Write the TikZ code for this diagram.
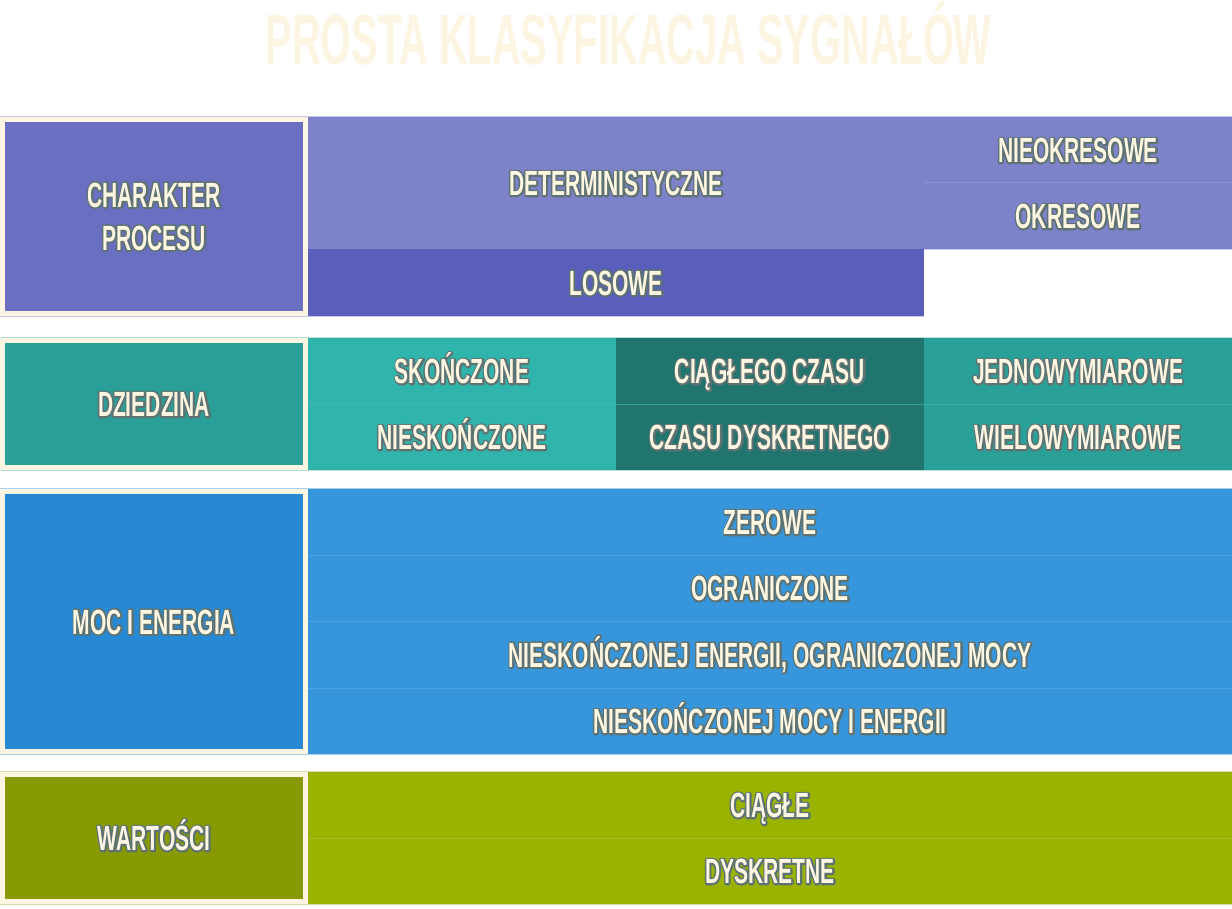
\documentclass[tikz,border=0pt]{standalone}
\usepackage{fontspec}
\newfontfamily\bebas{Liberation Sans}[FakeStretch=0.6]
\newfontfamily\bebasT{Liberation Sans}[FakeStretch=0.56]
\definecolor{cream}{HTML}{FCF5E2}
\definecolor{txtfill}{HTML}{FDF6E3}
\definecolor{pLab}{HTML}{6A6FC1}
\definecolor{pDet}{HTML}{7E82CB}
\definecolor{pLos}{HTML}{5B5FBC}
\definecolor{pLine}{HTML}{C6C8EC}
\definecolor{pSep}{HTML}{8F93D3}
\definecolor{tLab}{HTML}{2A9F97}
\definecolor{tLight}{HTML}{30B5AC}
\definecolor{tDark}{HTML}{20766F}
\definecolor{tRight}{HTML}{2AA198}
\definecolor{tLine}{HTML}{B5DED6}
\definecolor{tSep}{HTML}{45BDB5}
\definecolor{bLab}{HTML}{2789D4}
\definecolor{bRight}{HTML}{3796DB}
\definecolor{bLine}{HTML}{A8D0EE}
\definecolor{bSep}{HTML}{4DA3E2}
\definecolor{gLab}{HTML}{879A00}
\definecolor{gRight}{HTML}{9AB300}
\definecolor{gLine}{HTML}{D5DCA6}
\definecolor{gSep}{HTML}{A8BE2A}
% outlined text: a stroked copy (outline #5E7272) under the filled text
\newcommand{\tx}[1]{\rlap{\special{pdf:literal direct 1 Tr 3.4 w 1 j 0.369 0.447 0.447 RG}#1\special{pdf:literal direct 0 Tr}}#1}
\newcommand{\cellnode}[7]{%
  \node[cell, fill=#6, minimum width={(#4-#2)*1pt}, minimum height={(#5-#3)*1pt}]
    (#1) at ({(#2+#4)/2},{(#3+#5)/2}) {#7};}
\tikzset{
  cell/.style={rectangle, draw=none, inner sep=0pt, outer sep=0pt, align=center,
    text=txtfill, font=\bebas\bfseries\fontsize{35}{43}\selectfont},
  one/.style={text height=25.1pt, text depth=0pt},
  sepline/.style={line width=1pt},
}
\begin{document}
\begin{tikzpicture}[x=1pt,y=-1pt]
\useasboundingbox[fill=white] (0,0) rectangle (1232,909);
% title
\node[text=cream, font=\bebasT\bfseries\fontsize{71}{80}\selectfont, inner sep=0pt, anchor=base] (title) at (628.5,65) {PROSTA KLASYFIKACJA SYGNAŁÓW};

% ---------- row 1 ----------
\cellnode{band1}{0}{116}{1232}{317}{pLine}{}
\fill[white] (924,250) rectangle (1232,317);
\cellnode{frame1}{0}{117}{308}{316}{cream}{}
\cellnode{lab1}{5}{122}{303}{311}{pLab}{\tx{CHARAKTER}\\\tx{PROCESU}}
\tikzset{cell/.append style={one}}
\cellnode{det}{308}{117}{924}{249}{pDet}{\tx{DETERMINISTYCZNE}}
\cellnode{nieok}{924}{117}{1232}{183}{pDet}{\tx{NIEOKRESOWE}}
\cellnode{okr}{924}{183}{1232}{249}{pDet}{\tx{OKRESOWE}}
\cellnode{los}{308}{249}{924}{316}{pLos}{\tx{LOSOWE}}
\draw[sepline, pSep] (nieok.south west) -- (nieok.south east);

% ---------- row 2 ----------
\cellnode{band2}{0}{337}{1232}{471}{tLine}{}
\cellnode{frame2}{0}{338}{308}{470}{cream}{}
\cellnode{lab2}{5}{343}{303}{465}{tLab}{\tx{DZIEDZINA}}
\cellnode{skon}{308}{338}{616}{404}{tLight}{\tx{SKOŃCZONE}}
\cellnode{nieskon}{308}{404}{616}{470}{tLight}{\tx{NIESKOŃCZONE}}
\cellnode{ciag}{616}{338}{924}{404}{tDark}{\tx{CIĄGŁEGO CZASU}}
\cellnode{dysk}{616}{404}{924}{470}{tDark}{\tx{CZASU DYSKRETNEGO}}
\cellnode{jedn}{924}{338}{1232}{404}{tRight}{\tx{JEDNOWYMIAROWE}}
\cellnode{wiel}{924}{404}{1232}{470}{tRight}{\tx{WIELOWYMIAROWE}}
\draw[sepline, tSep, opacity=0.6] (skon.south west) -- (jedn.south east);

% ---------- row 3 ----------
\cellnode{band3}{0}{488}{1232}{755}{bLine}{}
\cellnode{frame3}{0}{489}{308}{754}{cream}{}
\cellnode{lab3}{5}{494}{303}{749}{bLab}{\tx{MOC I ENERGIA}}
\cellnode{zer}{308}{489}{1232}{555}{bRight}{\tx{ZEROWE}}
\cellnode{ogr}{308}{555}{1232}{621}{bRight}{\tx{OGRANICZONE}}
\cellnode{nen}{308}{621}{1232}{688}{bRight}{\tx{NIESKOŃCZONEJ ENERGII, OGRANICZONEJ MOCY}}
\cellnode{nme}{308}{688}{1232}{754}{bRight}{\tx{NIESKOŃCZONEJ MOCY I ENERGII}}
\draw[sepline, bSep] (zer.south west) -- (zer.south east);
\draw[sepline, bSep] (ogr.south west) -- (ogr.south east);
\draw[sepline, bSep] (nen.south west) -- (nen.south east);

% ---------- row 4 ----------
\cellnode{band4}{0}{771}{1232}{905}{gLine}{}
\cellnode{frame4}{0}{772}{308}{904}{cream}{}
\cellnode{lab4}{5}{777}{303}{899}{gLab}{\tx{WARTOŚCI}}
\cellnode{ciagle}{308}{772}{1232}{838}{gRight}{\tx{CIĄGŁE}}
\cellnode{dyskr}{308}{838}{1232}{904}{gRight}{\tx{DYSKRETNE}}
\draw[sepline, gSep] (ciagle.south west) -- (ciagle.south east);
\end{tikzpicture}
\end{document}
